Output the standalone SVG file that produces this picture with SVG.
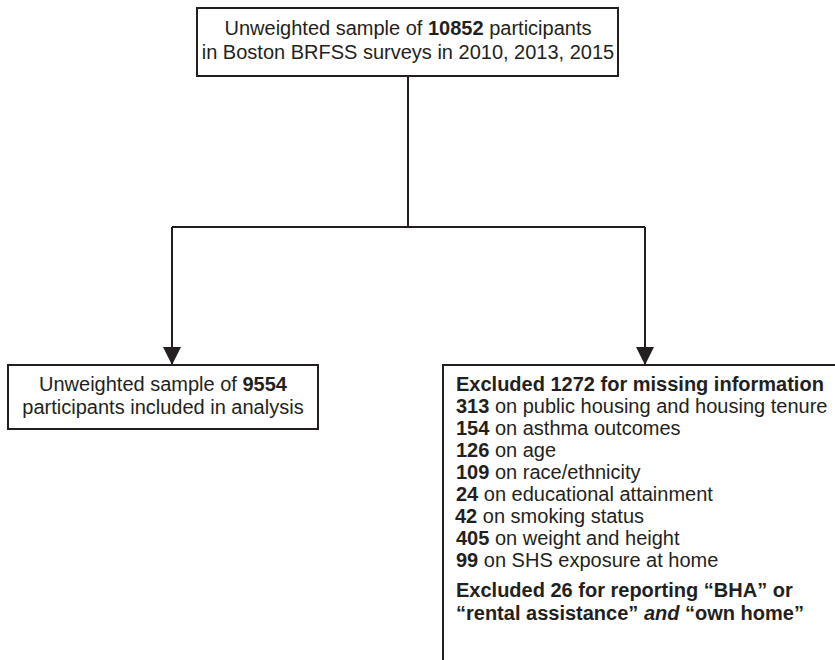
<svg xmlns="http://www.w3.org/2000/svg" width="835" height="660" viewBox="0 0 835 660">
<style>
.box{fill:#fff;stroke:#231f20;stroke-width:2}
.t{font-family:"Liberation Sans",Arial,sans-serif;font-size:20px;fill:#231f20}
.b{font-weight:bold}
.c{text-anchor:middle}
.ln{fill:none;stroke:#231f20;stroke-width:2}
</style>
<defs>
<marker id="arr" markerUnits="userSpaceOnUse" markerWidth="18" markerHeight="20" refX="17" refY="9" orient="auto">
<path d="M0,0 L18,9 L0,18 Z" fill="#231f20"/>
</marker>
</defs>
<rect width="835" height="660" fill="#fff"/>
<g id="connectors">
<path class="ln" d="M408,76 V227"/>
<path class="ln" d="M172,227 H645"/>
<path class="ln" d="M172,227 V364" marker-end="url(#arr)"/>
<path class="ln" d="M645,227 V364" marker-end="url(#arr)"/>
</g>
<g id="top">
<rect class="box" x="197" y="8" width="421" height="68"/>
<text class="t c" x="408" y="35">Unweighted sample of <tspan class="b">10852</tspan> participants</text>
<text class="t c" x="408" y="59">in Boston BRFSS surveys in 2010, 2013, 2015</text>
</g>
<g id="included">
<rect class="box" x="8" y="365" width="310" height="64"/>
<text class="t c" x="163" y="391">Unweighted sample of <tspan class="b">9554</tspan></text>
<text class="t c" x="163" y="414">participants included in analysis</text>
</g>
<g id="excluded">
<rect class="box" x="443" y="365" width="420" height="330"/>
<text class="t b" x="456" y="391">Excluded 1272 for missing information</text>
<text class="t" x="456" y="413"><tspan class="b">313</tspan> on public housing and housing tenure</text>
<text class="t" x="456" y="435"><tspan class="b">154</tspan> on asthma outcomes</text>
<text class="t" x="456" y="457"><tspan class="b">126</tspan> on age</text>
<text class="t" x="456" y="479"><tspan class="b">109</tspan> on race/ethnicity</text>
<text class="t" x="456" y="501"><tspan class="b">24</tspan> on educational attainment</text>
<text class="t" x="455" y="523"><tspan class="b">42</tspan> on smoking status</text>
<text class="t" x="456" y="545"><tspan class="b">405</tspan> on weight and height</text>
<text class="t" x="456" y="567"><tspan class="b">99</tspan> on SHS exposure at home</text>
<text class="t b" x="456" y="597">Excluded 26 for reporting “BHA” or</text>
<text class="t b" x="456" y="620">“rental assistance” <tspan font-style="italic">and</tspan> “own home”</text>
</g>
</svg>
